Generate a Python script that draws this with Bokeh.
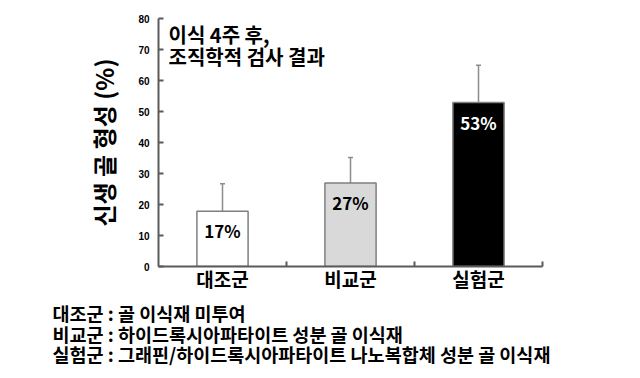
from bokeh.plotting import figure
from bokeh.models import Range1d, FixedTicker, ColumnDataSource, Whisker, TeeHead, Label, Title
from bokeh.core.properties import value
from bokeh.embed import file_html
from bokeh.resources import INLINE

# ---- data ----
categories = ["대조군", "비교군", "실험군"]
values = [17.8, 26.9, 52.9]
errors = [8.9, 8.3, 12.0]
value_labels = ["17%", "27%", "53%"]
y_ticks = [0, 10, 20, 30, 40, 50, 60, 70, 80]
note_lines = ["이식 4주 후,", "조직학적 검사 결과"]
legend_lines = [
    "대조군 : 골 이식재 미투여",
    "비교군 : 하이드록시아파타이트 성분 골 이식재",
    "실험군 : 그래핀/하이드록시아파타이트 나노복합체 성분 골 이식재",
]
y_label = "신생 골 형성 (%)"

# ---- styles ----
bar_colors = ["#ffffff", "#d9d9d9", "#000000"]
label_colors = ["#000000", "#000000", "#ffffff"]
KR = "Noto Sans CJK KR"
AXIS = "#5a5a5a"

xs = [i + 0.5 for i in range(len(categories))]
src = ColumnDataSource(dict(
    x=xs, top=values, upper=[v + e for v, e in zip(values, errors)],
    color=bar_colors, lab=value_labels, lab_color=label_colors,
))

p = figure(width=640, height=378, output_backend="svg", toolbar_location=None,
           x_range=Range1d(0, len(categories)), y_range=Range1d(0, 80))
p.min_border_left = 158
p.min_border_right = 98
p.min_border_top = 18
p.min_border_bottom = 112
p.outline_line_color = None
p.grid.visible = False
p.background_fill_color = "white"
p.border_fill_color = "white"

p.vbar(x="x", top="top", width=0.4, bottom=0, fill_color="color",
       line_color="#7f7f7f", line_width=1.5, source=src)

w = Whisker(source=src, base="x", lower="top", upper="upper",
            line_color="#8c8c8c", line_width=1.5,
            lower_head=None,
            upper_head=TeeHead(size=5, line_color="#8c8c8c", line_width=1.5),
            level="underlay")
p.add_layout(w)

p.text(x="x", y="top", text="lab", text_color="lab_color", source=src,
       text_align="center", text_baseline="top", y_offset=7,
       text_font=value(KR), text_font_style="bold", text_font_size="17px")

# x axis
xa = p.xaxis[0]
xa.ticker = FixedTicker(ticks=xs, minor_ticks=list(range(1, len(categories) + 1)))
xa.major_label_overrides = {x: c for x, c in zip(xs, categories)}
xa.major_tick_in = 0
xa.major_tick_out = 0
xa.minor_tick_in = 5
xa.minor_tick_out = 0
xa.minor_tick_line_color = AXIS
xa.minor_tick_line_width = 2
xa.axis_line_color = AXIS
xa.axis_line_width = 2
xa.major_label_text_font = KR
xa.major_label_text_font_style = "bold"
xa.major_label_text_font_size = "19px"
xa.major_label_text_color = "black"
xa.major_label_standoff = -2

# y axis
ya = p.yaxis[0]
ya.ticker = FixedTicker(ticks=y_ticks)
ya.major_tick_in = 5
ya.major_tick_out = 0
ya.minor_tick_line_color = None
ya.major_tick_line_color = AXIS
ya.major_tick_line_width = 2
ya.axis_line_color = AXIS
ya.axis_line_width = 2
ya.major_label_text_font = "Liberation Sans"
ya.major_label_text_font_style = "bold"
ya.major_label_text_font_size = "10px"
ya.major_label_text_color = "black"
ya.major_label_standoff = 9
ya.axis_label = y_label
ya.axis_label_text_font = KR
ya.axis_label_text_font_style = "bold"
ya.axis_label_text_font_size = "24px"
ya.axis_label_text_color = "black"
ya.axis_label_standoff = 14

# note inside plot
for i, t in enumerate(note_lines):
    p.add_layout(Label(x=10, y=232 - i * 22, x_units="screen", y_units="screen",
                       text=t, text_font=KR, text_font_style="bold",
                       text_font_size="20px", text_color="black",
                       text_baseline="middle"))

# legend text below the axis
p.add_layout(Title(text="\n".join(legend_lines), align="left", offset=-106, standoff=6,
                   text_font=KR, text_font_style="bold", text_line_height=0.8,
                   text_font_size="18.5px", text_color="black"), "below")

open("out.html", "w").write(file_html(p, INLINE))
